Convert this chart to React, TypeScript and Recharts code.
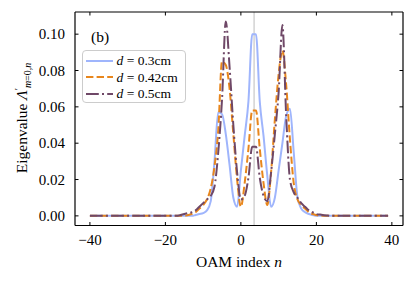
import { LineChart, Line, XAxis, YAxis, ReferenceLine, Legend } from 'recharts';

// OAM index n = -40 .. 39
const oamIndex = Array.from({ length: 80 }, (_, i) => i - 40);

// eigenvalues, one row = 10 values of n
const eigD03 = [
  0, 0, 0, 0, 0, 0, 0, 0, 0, 0,
  0, 0, 0, 0, 0, 0, 0, 0, 0, 0,
  0, 0, 0, 0, 0, 0, 0, 0, 0.0005, 0.001,
  0.0015, 0.003, 0.008, 0.03, 0.057, 0.056, 0.045, 0.028, 0.01, 0.005,
  0.025, 0.044, 0.063, 0.1, 0.1, 0.063, 0.044, 0.022, 0.005, 0.01,
  0.025, 0.04, 0.055, 0.059, 0.035, 0.01, 0.004, 0.002, 0.001, 0.0005,
  0, 0, 0, 0, 0, 0, 0, 0, 0, 0,
  0, 0, 0, 0, 0, 0, 0, 0, 0, 0,
];
const eigD042 = [
  0, 0, 0, 0, 0, 0, 0, 0, 0, 0,
  0, 0, 0, 0, 0, 0, 0, 0, 0, 0,
  0, 0, 0, 0, 0, 0, 0.0005, 0.001, 0.002, 0.004,
  0.006, 0.009, 0.015, 0.027, 0.047, 0.085, 0.083, 0.07, 0.045, 0.02,
  0.005, 0.018, 0.037, 0.058, 0.058, 0.037, 0.018, 0.006, 0.024, 0.053,
  0.078, 0.091, 0.072, 0.042, 0.018, 0.009, 0.006, 0.004, 0.002, 0.001,
  0.0005, 0, 0, 0, 0, 0, 0, 0, 0, 0,
  0, 0, 0, 0, 0, 0, 0, 0, 0, 0,
];
const eigD05 = [
  0, 0, 0, 0, 0, 0, 0, 0, 0, 0,
  0, 0, 0, 0, 0, 0, 0, 0, 0, 0,
  0, 0, 0, 0, 0.0005, 0.001, 0.0015, 0.002, 0.003, 0.005,
  0.007, 0.009, 0.011, 0.016, 0.035, 0.064, 0.107, 0.082, 0.05, 0.024,
  0.009, 0.011, 0.021, 0.038, 0.038, 0.021, 0.011, 0.008, 0.024, 0.045,
  0.068, 0.105, 0.055, 0.02, 0.013, 0.01, 0.007, 0.005, 0.003, 0.002,
  0.001, 0.0007, 0.0004, 0.0002, 0, 0, 0, 0, 0, 0,
  0, 0, 0, 0, 0, 0, 0, 0, 0, 0,
];

const xTicks = [-40, -20, 0, 20, 40];
const yTicks = [0, 0.02, 0.04, 0.06, 0.08, 0.1];
const xDomain: [number, number] = [-43.95, 42.95];
const yDomain: [number, number] = [-0.0053, 0.1122];

const series = [
  { key: 'd03', name: '0.3cm', color: '#9fb5fc', dash: undefined },
  { key: 'd042', name: '0.42cm', color: '#e8861c', dash: '7.4 3.2' },
  { key: 'd05', name: '0.5cm', color: '#6f4867', dash: '12.8 3.2 2 3.2' },
];

const data = oamIndex.map((n, i) => ({
  n,
  d03: eigD03[i],
  d042: eigD042[i],
  d05: eigD05[i],
}));

const FONT = "'Liberation Serif', serif";
const TICK = 3.5;

const fmtX = (v: number) => (v < 0 ? '\u2212' + Math.abs(v) : String(v));

function BottomTick({ x, y, payload }: any) {
  return (
    <g>
      <line x1={x} x2={x} y1={y} y2={y - TICK} stroke="#000" />
      <text x={x} y={y + 19} textAnchor="middle" style={{ fontFamily: FONT, fontSize: 15 }} fill="#000">
        {fmtX(payload.value)}
      </text>
    </g>
  );
}

function LeftTick({ x, y, payload }: any) {
  return (
    <g>
      <line x1={x} x2={x + TICK} y1={y} y2={y} stroke="#000" />
      <text x={x - 10} y={y + 5} textAnchor="end" style={{ fontFamily: FONT, fontSize: 15 }} fill="#000">
        {payload.value.toFixed(2)}
      </text>
    </g>
  );
}

const TopTick = ({ x, y }: any) => <line x1={x} x2={x} y1={y} y2={y + TICK} stroke="#000" />;
const RightTick = ({ x, y }: any) => <line x1={x} x2={x - TICK} y1={y} y2={y} stroke="#000" />;

function LegendBox() {
  return (
    <div
      style={{
        border: '1px solid #cccccc',
        borderRadius: 4,
        background: '#fff',
        padding: '2px 0 0 0',
        width: 104,
        boxSizing: 'border-box',
        fontFamily: FONT,
        fontSize: 13.5,
        lineHeight: 1,
      }}
    >
      {series.map((s) => (
        <div key={s.key} style={{ display: 'flex', alignItems: 'center', height: 16.3 }}>
          <svg width={34} height={8} style={{ flex: 'none' }}>
            <line x1={3} x2={30} y1={4} y2={4} stroke={s.color} strokeWidth={2} strokeDasharray={s.dash} />
          </svg>
          <span style={{ whiteSpace: 'nowrap' }}>
            <i>d</i>
            {' = '}
            {s.name}
          </span>
        </div>
      ))}
    </div>
  );
}

export default function App() {
  return (
    <div style={{ position: 'absolute', left: 0, top: 0, width: 415, height: 282, background: '#fff', fontFamily: FONT }}>
      <LineChart width={415} height={282} data={data} margin={{ top: 0, right: 0, bottom: 0, left: 0 }}>
        <XAxis
          dataKey="n"
          type="number"
          domain={xDomain}
          ticks={xTicks}
          allowDataOverflow
          height={56.5}
          tickSize={0}
          tickMargin={0}
          tickLine={false}
          axisLine={{ stroke: '#000', strokeWidth: 1.2 }}
          tick={(p: any) => <BottomTick {...p} />}
        />
        <XAxis
          xAxisId="top"
          orientation="top"
          dataKey="n"
          type="number"
          domain={xDomain}
          ticks={xTicks}
          allowDataOverflow
          height={12}
          tickSize={0}
          tickMargin={0}
          tickLine={false}
          axisLine={{ stroke: '#000', strokeWidth: 1.2 }}
          tick={(p: any) => <TopTick {...p} />}
        />
        <YAxis
          type="number"
          domain={yDomain}
          ticks={yTicks}
          allowDataOverflow
          width={75}
          tickSize={0}
          tickMargin={0}
          tickLine={false}
          axisLine={{ stroke: '#000', strokeWidth: 1.2 }}
          tick={(p: any) => <LeftTick {...p} />}
        />
        <YAxis
          yAxisId="right"
          orientation="right"
          type="number"
          domain={yDomain}
          ticks={yTicks}
          allowDataOverflow
          width={12}
          tickSize={0}
          tickMargin={0}
          tickLine={false}
          axisLine={{ stroke: '#000', strokeWidth: 1.2 }}
          tick={(p: any) => <RightTick {...p} />}
        />
        <ReferenceLine x={3.5} stroke="#d3d3d3" strokeWidth={1.5} />
        {series.map((s) => (
          <Line
            key={s.key}
            type="monotone"
            dataKey={s.key}
            name={s.name}
            stroke={s.color}
            strokeWidth={2}
            strokeDasharray={s.dash}
            dot={false}
            isAnimationActive={false}
          />
        ))}
        <Legend
          layout="vertical"
          align="center"
          verticalAlign="middle"
          wrapperStyle={{ left: 81.5, top: 50, width: 104, height: 'auto' }}
          content={() => <LegendBox />}
        />
        <text x={91} y={42} style={{ fontFamily: FONT, fontSize: 15.5 }} fill="#000">
          (b)
        </text>
        <text x={239} y={267} textAnchor="middle" style={{ fontFamily: FONT, fontSize: 15.5 }} fill="#000">
          OAM index <tspan fontStyle="italic">n</tspan>
        </text>
        <text
          transform="translate(27 118) rotate(-90)"
          textAnchor="middle"
          style={{ fontFamily: FONT, fontSize: 15.5 }}
          fill="#000"
        >
          Eigenvalue <tspan fontStyle="italic">Λ</tspan>
          <tspan dy={-5} fontSize={10}>′</tspan>
          <tspan dy={9} fontSize={10} fontStyle="italic">m</tspan>
          <tspan fontSize={10}>=0,</tspan>
          <tspan fontSize={10} fontStyle="italic">n</tspan>
        </text>
      </LineChart>
    </div>
  );
}
